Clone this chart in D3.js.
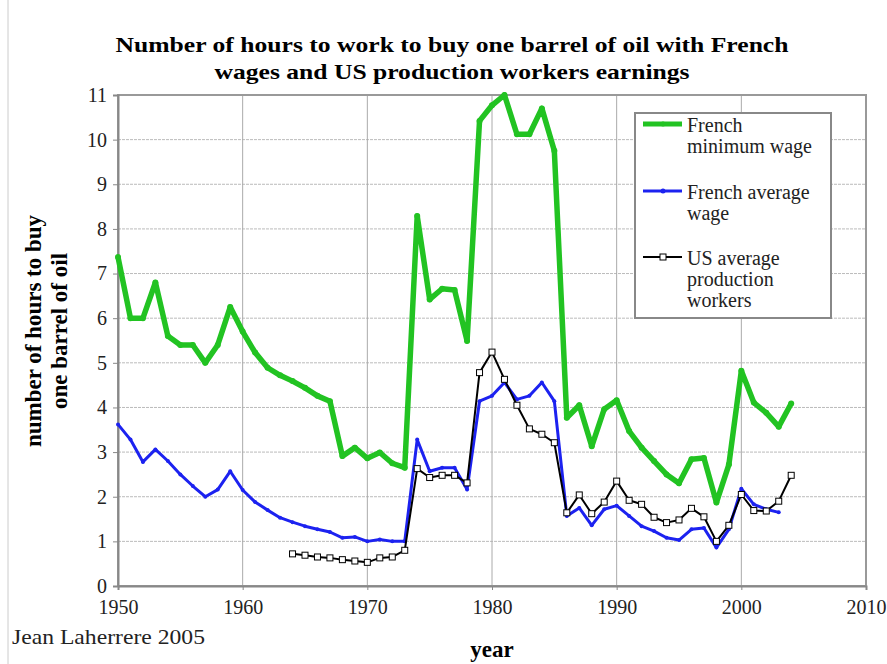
<!DOCTYPE html>
<html>
<head>
<meta charset="utf-8">
<script src="https://cdn.jsdelivr.net/npm/d3@7"></script>
<style>
  body { margin: 0; background: #fff; }
  svg { display: block; }
  text { font-family: 'Liberation Serif', 'Times New Roman', serif; }
</style>
</head>
<body>
<svg id="chart"></svg>
<script>
// years for each series
const minWageYears = d3.range(1950, 2005);
const avgWageYears = d3.range(1950, 2004);
const usYears = d3.range(1964, 2005);

// hours of work per barrel
const minWage = [7.37, 6.0, 6.0, 6.8, 5.6, 5.4, 5.4, 5.0, 5.4, 6.25,
    5.7, 5.23, 4.89, 4.72, 4.59, 4.44, 4.26, 4.14, 2.91, 3.1,
    2.86, 2.99, 2.75, 2.65, 8.29, 6.42, 6.66, 6.63, 5.49, 10.42,
    10.77, 11.0, 10.12, 10.12, 10.7, 9.75, 3.77, 4.05, 3.13, 3.96,
    4.16, 3.47, 3.1, 2.8, 2.5, 2.3, 2.84, 2.87, 1.87, 2.72,
    4.82, 4.11, 3.88, 3.57, 4.09];
const avgWage = [3.62, 3.28, 2.78, 3.06, 2.8, 2.5, 2.24, 2.0, 2.16, 2.57,
    2.15, 1.88, 1.7, 1.53, 1.43, 1.34, 1.27, 1.21, 1.08, 1.10,
    1.0, 1.04, 1.0, 1.0, 3.28, 2.57, 2.65, 2.65, 2.16, 4.14,
    4.26, 4.56, 4.18, 4.26, 4.56, 4.14, 1.57, 1.75, 1.36, 1.72,
    1.80, 1.57, 1.34, 1.23, 1.08, 1.03, 1.27, 1.3, 0.86, 1.27,
    2.18, 1.83, 1.72, 1.65];
const usWorkers = [0.72, 0.69, 0.65, 0.63, 0.59, 0.56,
    0.53, 0.63, 0.65, 0.80, 2.63, 2.43, 2.48, 2.48, 2.31, 4.78,
    5.24, 4.63, 4.05, 3.52, 3.40, 3.21, 1.64, 2.04, 1.62, 1.88,
    2.35, 1.92, 1.83, 1.54, 1.42, 1.48, 1.74, 1.55, 1.0, 1.36,
    2.05, 1.69, 1.68, 1.9, 2.48];

const xTicks = [1950, 1960, 1970, 1980, 1990, 2000, 2010];
const yTicks = d3.range(0, 12);

const width = 887;
const height = 664;
const GREEN = "#22c322";
const BLUE = "#1c22f0";
const FONT = "'Liberation Serif', 'Times New Roman', serif";

const svg = d3.select("#chart").attr("width", width).attr("height", height);

const x = d3.scaleLinear().domain([1950, 2010]).range([118, 866]);
const y = d3.scaleLinear().domain([0, 11]).range([586, 95]);

// faint frame line on the left of the picture
svg.append("line")
    .attr("x1", 8).attr("x2", 8).attr("y1", 0).attr("y2", height)
    .attr("stroke", "#ccc").attr("stroke-width", 1);

// grid
svg.append("g")
    .selectAll("line")
    .data(yTicks.slice(1))
    .enter().append("line")
    .attr("x1", x(1950)).attr("x2", x(2010))
    .attr("y1", d => y(d)).attr("y2", d => y(d))
    .attr("stroke", "#bbb").attr("stroke-width", 1)
    .attr("stroke-dasharray", "3,1");
svg.append("g")
    .selectAll("line")
    .data(xTicks.slice(1, -1))
    .enter().append("line")
    .attr("x1", d => x(d)).attr("x2", d => x(d))
    .attr("y1", y(0)).attr("y2", y(11))
    .attr("stroke", "#aaa").attr("stroke-width", 1);

// plot frame
svg.append("rect")
    .attr("x", x(1950)).attr("y", y(11))
    .attr("width", x(2010) - x(1950)).attr("height", y(0) - y(11))
    .attr("fill", "none").attr("stroke", "#999").attr("stroke-width", 2);

// axes
const yAxis = svg.append("g")
    .attr("transform", `translate(${x(1950)},0)`)
    .call(d3.axisLeft(y).tickValues(yTicks).tickSize(5).tickPadding(6).tickFormat(d3.format("d")));
const xAxis = svg.append("g")
    .attr("transform", `translate(0,${y(0)})`)
    .call(d3.axisBottom(x).tickValues(xTicks).tickSize(4).tickPadding(10).tickFormat(d3.format("d")));
[yAxis, xAxis].forEach(a => {
    a.attr("font-family", null);
    a.select(".domain").attr("stroke", "#888").attr("stroke-width", 2);
    a.selectAll(".tick line").attr("stroke", "#888");
    a.selectAll("text")
        .style("font-family", FONT)
        .style("font-size", "20px")
        .attr("fill", "#222");
});

// series
const line = d3.line().x(d => x(d[0])).y(d => y(d[1]));
const series = [
    {name: "min", years: minWageYears, values: minWage, color: GREEN, width: 5.5},
    {name: "avg", years: avgWageYears, values: avgWage, color: BLUE, width: 3},
    {name: "us", years: usYears, values: usWorkers, color: "#000", width: 2}
];

series.forEach(s => {
    const pts = s.years.map((yr, i) => [yr, s.values[i]]);
    svg.append("path")
        .datum(pts)
        .attr("fill", "none")
        .attr("stroke", s.color)
        .attr("stroke-width", s.width)
        .attr("stroke-linejoin", "round")
        .attr("d", line);
    if (s.name === "us") {
        svg.append("g").selectAll("rect")
            .data(pts)
            .enter().append("rect")
            .attr("x", d => x(d[0]) - 3).attr("y", d => y(d[1]) - 3)
            .attr("width", 6).attr("height", 6)
            .attr("fill", "#fff").attr("stroke", "#000").attr("stroke-width", 1);
    } else {
        svg.append("g").selectAll("circle")
            .data(pts)
            .enter().append("circle")
            .attr("cx", d => x(d[0])).attr("cy", d => y(d[1]))
            .attr("r", s.name === "min" ? 3 : 2)
            .attr("fill", s.color);
    }
});

// legend
const legend = svg.append("g");
legend.append("rect")
    .attr("x", 635).attr("y", 113).attr("width", 196).attr("height", 205)
    .attr("fill", "#fff").attr("stroke", "#888").attr("stroke-width", 2);
const legendItems = [
    {lines: ["French", "minimum wage"], color: GREEN, width: 5, y: 124, marker: "dot"},
    {lines: ["French average", "wage"], color: BLUE, width: 3, y: 191, marker: "dot"},
    {lines: ["US average", "production", "workers"], color: "#000", width: 2, y: 257, marker: "square"}
];
legendItems.forEach(it => {
    legend.append("line")
        .attr("x1", 643).attr("x2", 682).attr("y1", it.y).attr("y2", it.y)
        .attr("stroke", it.color).attr("stroke-width", it.width);
    if (it.marker === "square") {
        legend.append("rect").attr("x", 660).attr("y", it.y - 3).attr("width", 6).attr("height", 6)
            .attr("fill", "#fff").attr("stroke", "#000");
    } else {
        legend.append("circle").attr("cx", 663).attr("cy", it.y).attr("r", 2.5).attr("fill", it.color);
    }
    // one text per line so the lines sit at fixed spacing
    it.lines.forEach((t, i) => {
        legend.append("text")
            .attr("x", 687).attr("y", it.y + 8 + i * 21)
            .style("font-family", FONT).style("font-size", "20px")
            .attr("fill", "#222")
            .text(t);
    });
});

// title
svg.append("text")
    .attr("x", 452).attr("y", 52)
    .attr("text-anchor", "middle")
    .style("font-family", FONT).style("font-weight", "bold").style("font-size", "22px")
    .attr("textLength", 673).attr("lengthAdjust", "spacingAndGlyphs")
    .text("Number of hours to work to buy one barrel of oil with French");
svg.append("text")
    .attr("x", 452).attr("y", 79)
    .attr("text-anchor", "middle")
    .style("font-family", FONT).style("font-weight", "bold").style("font-size", "22px")
    .attr("textLength", 475).attr("lengthAdjust", "spacingAndGlyphs")
    .text("wages and US production workers earnings");

// axis titles
const yTitle = svg.append("text")
    .attr("transform", "translate(41,331) rotate(-90)")
    .attr("text-anchor", "middle")
    .style("font-family", FONT).style("font-weight", "bold").style("font-size", "23px");
yTitle.append("tspan").attr("x", 0).attr("dy", 0).text("number of hours to buy");
yTitle.append("tspan").attr("x", 0).attr("dy", 26).text("one barrel of oil");

svg.append("text")
    .attr("x", 492).attr("y", 657)
    .attr("text-anchor", "middle")
    .style("font-family", FONT).style("font-weight", "bold").style("font-size", "23px")
    .text("year");

svg.append("text")
    .attr("x", 12).attr("y", 644)
    .style("font-family", FONT).style("font-size", "21px")
    .attr("textLength", 193).attr("lengthAdjust", "spacingAndGlyphs")
    .attr("fill", "#222")
    .text("Jean Laherrere 2005");
</script>
</body>
</html>
